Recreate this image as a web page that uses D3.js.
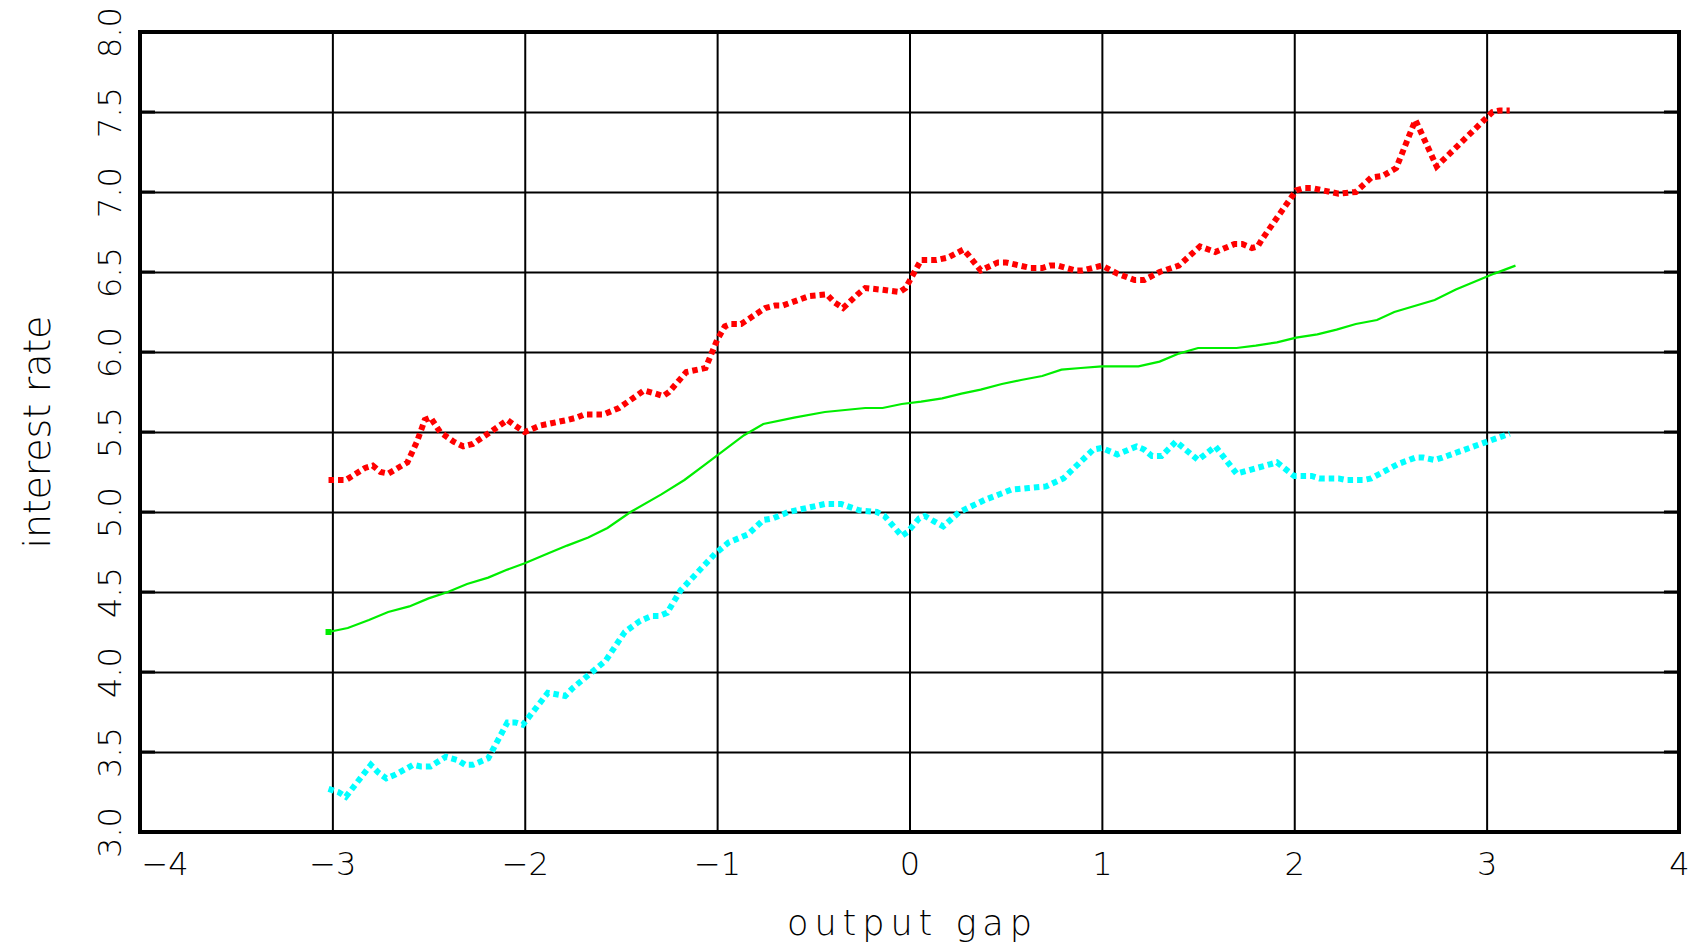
<!DOCTYPE html>
<html>
<head>
<meta charset="utf-8">
<script src="https://cdn.jsdelivr.net/npm/d3@7"></script>
<style>
  body { margin: 0; background: #fff; }
  svg text { font-family: "DejaVu Sans", sans-serif; font-weight: 200; fill: #000; }
</style>
</head>
<body>
<svg width="1702" height="950"></svg>
<script>

// upper band (red, dotted)
var upperX = [-3.02,-2.93,-2.83,-2.79,-2.75,-2.71,-2.66,-2.61,-2.56,-2.52,-2.49,-2.44,-2.37,-2.32,-2.27,-2.19,-2.09,-2.05,-2.00,-1.92,-1.78,-1.73,-1.69,-1.59,-1.51,-1.38,-1.32,-1.28,-1.25,-1.16,-1.06,-1.00,-0.96,-0.93,-0.875,-0.75,-0.70,-0.66,-0.52,-0.43,-0.39,-0.345,-0.27,-0.23,-0.15,-0.05,-0.02,0.06,0.14,0.20,0.28,0.31,0.37,0.46,0.50,0.63,0.69,0.73,0.77,0.86,0.90,1.00,1.08,1.17,1.22,1.30,1.40,1.51,1.59,1.69,1.73,1.78,1.81,1.83,2.01,2.05,2.09,2.23,2.32,2.40,2.46,2.53,2.63,2.74,3.03,3.07,3.12];
var upperY = [5.20,5.20,5.275,5.29,5.25,5.24,5.275,5.31,5.44,5.575,5.59,5.50,5.44,5.41,5.425,5.49,5.575,5.54,5.50,5.54,5.575,5.59,5.61,5.61,5.65,5.76,5.74,5.725,5.75,5.875,5.90,6.075,6.16,6.175,6.175,6.275,6.29,6.29,6.35,6.36,6.31,6.275,6.36,6.40,6.39,6.375,6.40,6.575,6.575,6.59,6.64,6.60,6.51,6.56,6.56,6.525,6.525,6.54,6.54,6.51,6.51,6.54,6.49,6.45,6.45,6.50,6.54,6.66,6.625,6.675,6.675,6.65,6.66,6.70,7.01,7.025,7.025,6.99,7.00,7.09,7.10,7.15,7.45,7.16,7.50,7.51,7.51];

// middle (green, solid)
var midX = [-3.02,-2.92,-2.81,-2.71,-2.60,-2.50,-2.40,-2.30,-2.19,-2.09,-2.00,-1.88,-1.78,-1.67,-1.57,-1.45,-1.29,-1.17,-1.07,-0.86,-0.76,-0.60,-0.44,-0.23,-0.14,-0.04,0.06,0.17,0.27,0.37,0.48,0.58,0.69,0.79,0.89,1.00,1.19,1.30,1.40,1.50,1.70,1.80,1.91,2.01,2.12,2.22,2.32,2.43,2.52,2.73,2.84,2.94,3.04,3.15];
var midY = [4.25,4.275,4.325,4.375,4.41,4.46,4.50,4.55,4.59,4.64,4.68,4.74,4.79,4.84,4.90,5.00,5.11,5.20,5.29,5.48,5.55,5.59,5.625,5.65,5.65,5.675,5.69,5.71,5.74,5.765,5.80,5.825,5.85,5.89,5.90,5.91,5.91,5.94,5.99,6.025,6.025,6.04,6.06,6.09,6.11,6.14,6.175,6.20,6.25,6.325,6.39,6.44,6.49,6.54];

// lower band (cyan, dotted)
var lowerX = [-3.02,-2.97,-2.93,-2.80,-2.76,-2.72,-2.67,-2.58,-2.54,-2.49,-2.41,-2.35,-2.31,-2.27,-2.19,-2.09,-2.05,-2.01,-1.88,-1.79,-1.75,-1.58,-1.48,-1.40,-1.34,-1.30,-1.26,-1.19,-1.01,-0.94,-0.84,-0.76,-0.71,-0.63,-0.44,-0.355,-0.26,-0.17,-0.13,-0.04,-0.01,0.05,0.08,0.13,0.175,0.26,0.39,0.53,0.62,0.71,0.80,0.955,1.00,1.08,1.18,1.22,1.26,1.31,1.385,1.50,1.59,1.70,1.91,2.00,2.09,2.13,2.23,2.27,2.36,2.40,2.54,2.63,2.67,2.73,2.77,3.12];
var lowerY = [3.27,3.25,3.22,3.42,3.37,3.335,3.36,3.42,3.41,3.41,3.47,3.45,3.42,3.42,3.46,3.685,3.685,3.67,3.87,3.85,3.90,4.07,4.25,4.32,4.35,4.35,4.37,4.51,4.74,4.81,4.86,4.95,4.96,5.00,5.05,5.05,5.01,5.00,4.975,4.85,4.875,4.96,4.975,4.94,4.91,5.00,5.075,5.14,5.15,5.16,5.21,5.39,5.40,5.36,5.41,5.39,5.35,5.35,5.44,5.325,5.41,5.24,5.31,5.225,5.225,5.21,5.21,5.20,5.20,5.21,5.30,5.34,5.34,5.325,5.34,5.49];

var xTicks = [-4, -3, -2, -1, 0, 1, 2, 3, 4];
var yTicks = [3.0, 3.5, 4.0, 4.5, 5.0, 5.5, 6.0, 6.5, 7.0, 7.5, 8.0];
var xTitle = "output gap";
var yTitle = "interest rate";

var svg = d3.select("svg");
var m = { left: 140, right: 1679, top: 32, bottom: 832 };

var x = d3.scaleLinear().domain([-4, 4]).range([m.left, m.right]);
var y = d3.scaleLinear().domain([3, 8]).range([m.bottom, m.top]);

function zip(xs, ys) { return xs.map(function(v, i) { return [v, ys[i]]; }); }

// grid + tick labels, x
var gx = svg.append("g")
    .attr("transform", "translate(0," + m.bottom + ")")
    .call(d3.axisBottom(x).tickValues(xTicks).tickSize(-(m.bottom - m.top)));
gx.select(".domain").remove();
gx.selectAll("line").attr("stroke", "#000").attr("stroke-width", 2);
gx.selectAll("text")
    .attr("y", 43).attr("dy", null)
    .style("font-size", "32px")
    .filter(function(d) { return d === xTicks[0]; })
    .attr("text-anchor", "start").attr("x", 1);

// grid + tick labels, y
var gy = svg.append("g")
    .attr("transform", "translate(" + m.left + ",0)")
    .call(d3.axisLeft(y).tickValues(yTicks).tickSize(-(m.right - m.left)).tickFormat(d3.format(".1f")));
gy.select(".domain").remove();
gy.selectAll("line").attr("stroke", "#000").attr("stroke-width", 2);
gy.selectAll("text")
    .attr("transform", "rotate(-90)")
    .attr("x", 0).attr("y", -19).attr("dy", null)
    .attr("text-anchor", "middle")
    .style("font-size", "32px");

// short inner ticks on both vertical sides
var tk = svg.append("g").attr("stroke", "#000").attr("stroke-width", 3);
tk.selectAll(".tl").data(yTicks).enter().append("line")
    .attr("x1", m.left).attr("x2", m.left + 15)
    .attr("y1", y).attr("y2", y);
tk.selectAll(".tr").data(yTicks).enter().append("line")
    .attr("x1", m.right - 15).attr("x2", m.right)
    .attr("y1", y).attr("y2", y);

var line = d3.line()
    .x(function(d) { return x(d[0]); })
    .y(function(d) { return y(d[1]); });

svg.append("path")
    .datum(zip(midX, midY))
    .attr("d", line)
    .attr("fill", "none")
    .attr("stroke", "#00ee00")
    .attr("stroke-width", 2.2);

svg.append("rect")
    .attr("x", x(midX[0]) - 3).attr("y", y(midY[0]) - 3)
    .attr("width", 6).attr("height", 6)
    .attr("fill", "#00ee00");

svg.append("path")
    .datum(zip(upperX, upperY))
    .attr("d", line)
    .attr("fill", "none")
    .attr("stroke", "#ff0000")
    .attr("stroke-width", 6)
    .attr("stroke-dasharray", "5.5,4");

svg.append("path")
    .datum(zip(lowerX, lowerY))
    .attr("d", line)
    .attr("fill", "none")
    .attr("stroke", "#00ffff")
    .attr("stroke-width", 6)
    .attr("stroke-dasharray", "5.5,4");

// frame
svg.append("rect")
    .attr("x", m.left).attr("y", m.top)
    .attr("width", m.right - m.left).attr("height", m.bottom - m.top)
    .attr("fill", "none")
    .attr("stroke", "#000")
    .attr("stroke-width", 4);

// axis titles
svg.append("text")
    .attr("x", (m.left + m.right) / 2).attr("y", 935)
    .attr("text-anchor", "middle")
    .attr("textLength", 245).attr("lengthAdjust", "spacing")
    .style("font-size", "35px")
    .text(xTitle);

svg.append("text")
    .attr("transform", "translate(50," + (m.top + m.bottom) / 2 + ") rotate(-90)")
    .attr("text-anchor", "middle")
    .attr("textLength", 233).attr("lengthAdjust", "spacing")
    .style("font-size", "38px")
    .text(yTitle);

</script>
</body>
</html>
